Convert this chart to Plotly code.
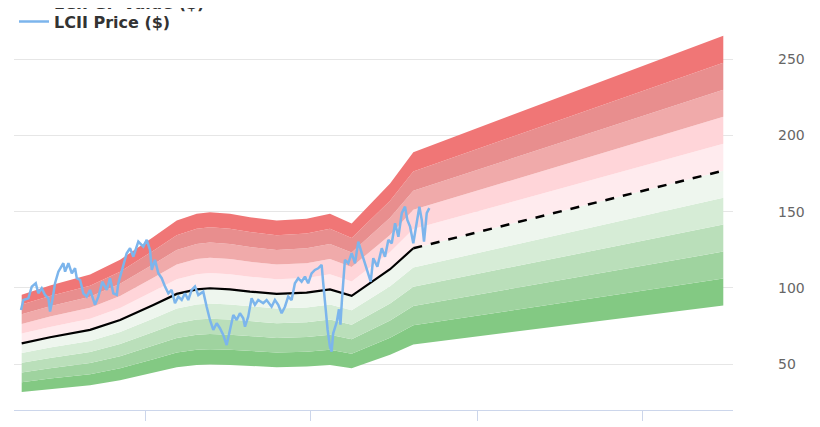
import numpy as np
import pandas as pd
import plotly.graph_objects as go

# ---- data (decimal years) ----
gf_years = [2016.513, 2016.854, 2017.336, 2017.698, 2018.099, 2018.381, 2018.622, 2018.782,
            2019.023, 2019.264, 2019.586, 2019.947, 2020.228, 2020.489, 2020.951, 2021.231]
gf_values = [63.7, 67.7, 72.5, 79.0, 88.9, 96.1, 99.1, 99.8,
             99.1, 97.6, 96.1, 96.9, 99.1, 94.8, 112.3, 126.0]

proj_years = [2021.231, 2024.966]
proj_values = [126.0, 176.9]

price_years = [
    2016.505, 2016.533, 2016.593, 2016.634, 2016.682, 2016.713, 2016.754, 2016.794, 2016.834, 2016.854,
    2016.882, 2016.914, 2016.954, 2017.014, 2017.035, 2017.075, 2017.116, 2017.155, 2017.176, 2017.216,
    2017.255, 2017.296, 2017.336, 2017.396, 2017.436, 2017.484, 2017.537, 2017.577, 2017.617, 2017.658,
    2017.677, 2017.737, 2017.778, 2017.818, 2017.858, 2017.918, 2017.978, 2018.019, 2018.059, 2018.080,
    2018.119, 2018.159, 2018.200, 2018.240, 2018.280, 2018.320, 2018.360, 2018.400, 2018.441, 2018.481,
    2018.520, 2018.561, 2018.601, 2018.641, 2018.701, 2018.742, 2018.782, 2018.822, 2018.863, 2018.902,
    2018.942, 2018.983, 2019.023, 2019.063, 2019.104, 2019.143, 2019.183, 2019.204, 2019.243, 2019.284,
    2019.324, 2019.364, 2019.424, 2019.465, 2019.525, 2019.565, 2019.605, 2019.646, 2019.686, 2019.725,
    2019.766, 2019.806, 2019.846, 2019.887, 2019.927, 2019.966, 2020.007, 2020.047, 2020.087, 2020.128,
    2020.147, 2020.176, 2020.200, 2020.228, 2020.248, 2020.267, 2020.288, 2020.311, 2020.336, 2020.354,
    2020.372, 2020.408, 2020.448, 2020.489, 2020.529, 2020.569, 2020.610, 2020.649, 2020.689, 2020.718,
    2020.749, 2020.798, 2020.851, 2020.890, 2020.930, 2020.971, 2021.011, 2021.051, 2021.092, 2021.131,
    2021.159, 2021.192, 2021.231, 2021.264, 2021.304, 2021.333, 2021.360, 2021.393, 2021.424,
]
price_values = [
    85.6, 92.1, 93.2, 100.9, 103.1, 96.5, 99.8, 95.4, 93.2, 84.5,
    92.1, 103.1, 110.7, 116.2, 110.7, 116.2, 109.6, 112.9, 106.4, 105.2,
    96.5, 94.3, 98.7, 88.9, 94.3, 104.1, 98.7, 106.4, 96.5, 95.4,
    103.1, 114.0, 122.8, 126.0, 120.5, 130.4, 127.1, 131.5, 124.9, 111.8,
    118.4, 109.6, 106.4, 100.9, 96.5, 98.7, 90.0, 94.3, 92.1, 96.5,
    92.1, 98.7, 100.9, 95.4, 97.6, 87.7, 79.0, 72.5, 76.9, 73.6,
    69.2, 62.6, 72.5, 82.3, 79.0, 83.4, 80.1, 74.6, 81.2, 93.2,
    88.9, 92.1, 90.0, 92.1, 87.7, 92.1, 88.9, 83.4, 87.7, 94.3,
    92.1, 103.1, 106.4, 104.1, 107.4, 103.1, 109.6, 111.8, 112.9, 115.1,
    103.1, 85.6, 72.5, 61.5, 58.2, 70.3, 74.6, 78.0, 86.0, 76.0,
    92.0, 118.4, 116.2, 122.8, 116.2, 130.4, 122.8, 116.2, 109.6, 104.1,
    119.5, 114.0, 126.0, 120.5, 131.5, 129.3, 142.4, 133.6, 149.0, 153.3,
    144.6, 140.2, 129.3, 140.2, 153.3, 144.6, 130.4, 149.0, 152.3,
]

band_multipliers = [0.5, 0.6, 0.7, 0.8, 0.9, 1.0, 1.1, 1.2, 1.3, 1.4, 1.5]
band_colors = ["#83c983", "#9fd39f", "#badfba", "#d6ecd6", "#eef6ee",
               "#ffebee", "#ffd5d9", "#f0aaaa", "#e88e8e", "#f07676"]

y_ticks = [50, 100, 150, 200, 250]
x_ticks = [2018, 2020, 2022, 2024]
x_range = [2016.4205, 2025.083]
y_range = [20, 275]


def yr2date(y):
    year = int(np.floor(y))
    start = pd.Timestamp(year, 1, 1)
    end = pd.Timestamp(year + 1, 1, 1)
    return start + (end - start) * (y - year)


gf_dates = [yr2date(v) for v in gf_years]
proj_dates = [yr2date(v) for v in proj_years]
price_dates = [yr2date(v) for v in price_years]
band_dates = gf_dates + proj_dates[1:]
band_base = np.array(gf_values + proj_values[1:])

fig = go.Figure()

for i, m in enumerate(band_multipliers):
    fig.add_trace(go.Scatter(
        x=band_dates, y=band_base * m, mode="lines",
        line=dict(width=0), showlegend=False, hoverinfo="skip",
        fill=None if i == 0 else "tonexty",
        fillcolor=None if i == 0 else band_colors[i - 1],
    ))

fig.add_trace(go.Scatter(
    x=gf_dates, y=gf_values, mode="lines", name="LCII GF Value ($)",
    line=dict(color="#000000", width=2.2), legend="legend",
))
fig.add_trace(go.Scatter(
    x=proj_dates, y=proj_values, mode="lines", showlegend=False,
    line=dict(color="#000000", width=2.5, dash="dash"),
))
fig.add_trace(go.Scatter(
    x=price_dates, y=price_values, mode="lines", name="LCII Price ($)",
    line=dict(color="#7cb5ec", width=2.5), legend="legend2",
))

legend_font = dict(family="DejaVu Sans", size=16, color="#333333", weight="bold")

fig.update_layout(
    width=820, height=427,
    margin=dict(l=6, r=95, t=13, b=25, autoexpand=False),
    paper_bgcolor="white", plot_bgcolor="white",
    font=dict(family="DejaVu Sans", color="#666666", size=14),
    showlegend=True,
    legend=dict(
        x=0.0, xanchor="left", y=1.090, yanchor="top",
        bgcolor="rgba(0,0,0,0)", font=legend_font,
    ),
    legend2=dict(
        x=0.0, xanchor="left", y=1.0424, yanchor="top",
        bgcolor="rgba(0,0,0,0)", font=legend_font,
    ),
    xaxis=dict(
        range=[yr2date(x_range[0]), yr2date(x_range[1])],
        tickvals=[yr2date(v) for v in x_ticks],
        ticktext=[str(v) for v in x_ticks],
        showgrid=False, showline=True, linecolor="#ccd6eb", linewidth=1,
        ticks="outside", ticklen=10, tickcolor="#ccd6eb",
        zeroline=False, automargin=False,
        tickfont=dict(size=14, color="#666666"),
    ),
    yaxis=dict(
        range=y_range, side="right",
        tickvals=y_ticks,
        showgrid=True, gridcolor="#e6e6e6", gridwidth=1,
        zeroline=False, showline=False, ticks="",
        ticklabelstandoff=44, automargin=False,
        tickfont=dict(size=14, color="#666666"),
    ),
)

fig.write_html("out.html")
